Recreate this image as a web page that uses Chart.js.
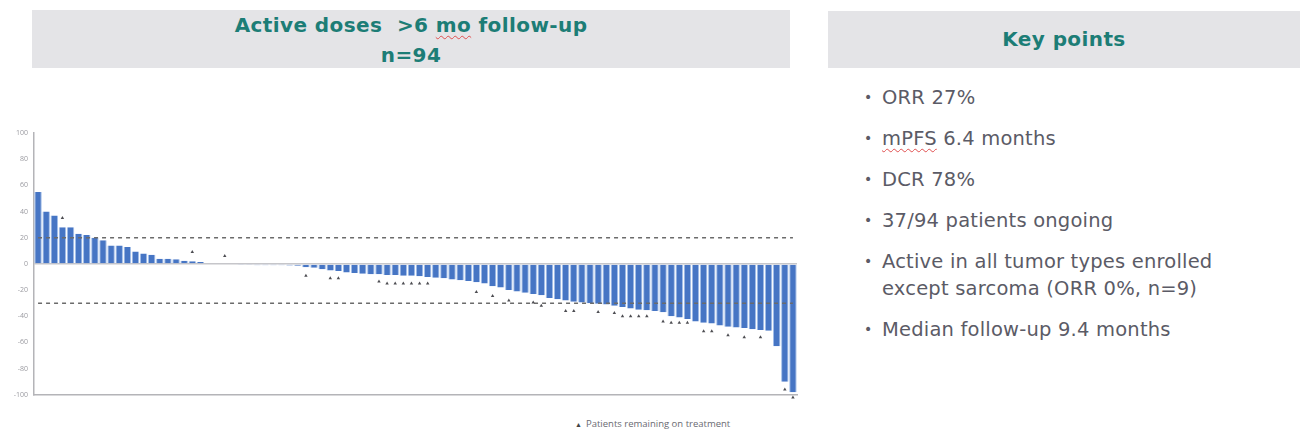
<!DOCTYPE html>
<html>
<head>
<meta charset="utf-8">
<script src="https://cdn.jsdelivr.net/npm/chart.js@4/dist/chart.umd.min.js"></script>
<style>
    body { margin: 0; background: #ffffff; font-family: 'DejaVu Sans', 'Noto Sans', sans-serif; }
    #page { position: relative; width: 1300px; height: 435px; overflow: hidden; }
    .head-box {
        position: absolute;
        background: #e4e4e7;
        color: #1c7d76;
        font-family: 'DejaVu Sans', sans-serif;
        font-weight: 700;
        text-align: center;
        letter-spacing: 0.4px;
    }
    #left-head { left: 32px; top: 10px; width: 758px; height: 58px; font-size: 20px; line-height: 30px; }
    #right-head { left: 828px; top: 11px; width: 472px; height: 57px; font-size: 20px; line-height: 57px; }
    .spell { text-decoration: underline wavy #e05050; text-decoration-thickness: 1px; text-underline-offset: 3px; }
    #points { position: absolute; left: 862px; top: 84px; margin: 0; padding: 0; list-style: none; color: #5b5b66; font-size: 19.5px; letter-spacing: 0.2px; }
    #points li { position: relative; padding-left: 20px; line-height: 27px; margin-bottom: 14px; }
    #points li::before { content: '\2022'; position: absolute; left: 2px; top: 0; font-size: 14px; }
    #chart-wrap { position: absolute; left: 0; top: 120px; width: 808px; height: 285px; }
    #note { position: absolute; left: 575px; top: 417px; font-size: 9.5px; color: #6a6a72; font-family: 'Open Sans', sans-serif; }
    #note span { font-size: 7px; color: #444; margin-right: 4px; }
</style>
</head>
<body>
<div id="page">
    <div id="left-head" class="head-box">Active doses&nbsp; &gt;6 <span class="spell">mo</span> follow-up<br>n=94</div>
    <div id="right-head" class="head-box">Key points</div>
    <ul id="points">
        <li>ORR 27%</li>
        <li><span class="spell">mPFS</span> 6.4 months</li>
        <li>DCR 78%</li>
        <li>37/94 patients ongoing</li>
        <li>Active in all tumor types enrolled<br>except sarcoma (ORR 0%, n=9)</li>
        <li>Median follow-up 9.4 months</li>
    </ul>
    <div id="chart-wrap"><canvas id="waterfall"></canvas></div>
    <div id="note"><span>&#9650;</span>Patients remaining on treatment</div>
</div>
<script>
// Best change in tumour size per patient (%), sorted high to low
const changePct = [
    55, 40, 37, 28, 28, 23, 22, 20, 18, 14,
    14, 13, 9.5, 8, 7, 4, 4, 3.5, 2.5, 2,
    1.5, 0.5, 0, 0, 0, -0.5, -0.5, -1, -1, -1,
    -1, -1.2, -1.5, -2.5, -3, -4, -5, -5.5, -6.5, -7,
    -7.5, -8, -8, -8.5, -8.5, -9, -9, -9.5, -10, -10.5,
    -11, -12, -12.5, -13, -14, -15, -17, -18, -20, -21,
    -22, -23, -24, -26, -27, -28, -29, -29.5, -30, -30.5,
    -31, -32, -33, -34, -35, -35.5, -36, -37, -40, -41,
    -42, -44, -45, -45.5, -47, -48, -48.5, -49, -50, -50.5,
    -51, -63, -90, -98
];
const patients = changePct.map((v, i) => String(i + 1));

// patients still on treatment (position in the sorted list) and where the marker sits
const onTreatmentIdx = [3, 19, 23, 33, 36, 37, 42, 43, 44, 45, 46, 47, 48, 54, 56, 58, 61, 62,
    65, 66, 69, 71, 72, 73, 74, 75, 77, 78, 79, 80, 82, 83, 85, 87, 89, 92, 93];
const onTreatmentPct = [35, 9, 6, -9, -11, -11, -13.5, -15, -15, -15, -15, -15, -15, -21.5, -24.5, -28, -29.5, -32,
    -36, -36, -36.7, -37.5, -40, -40, -40, -40, -44, -45, -45, -45, -51.5, -51.5, -54.5, -56, -56, -96, -102];

// response thresholds: PR at -30, PD at +20
const pdLine = 20;
const prLine = -30;

const yMin = -100;
const yMax = 100;
const yStep = 20;

document.addEventListener('DOMContentLoaded', function() {
    const colors = {
        bar: '#4675c4',
        barEdge: '#a3bfe9',
        axis: '#b4b4b8',
        tick: '#9a9aa0',
        dash: '#6b6b6b',
        marker: '#4d4d52'
    };

    const markerPoints = onTreatmentIdx.map((idx, k) => ({ x: patients[idx], y: onTreatmentPct[k] }));

    new Chart(document.getElementById('waterfall'), {
        data: {
            labels: patients,
            datasets: [
                {
                    type: 'scatter',
                    data: markerPoints,
                    pointStyle: 'triangle',
                    pointRadius: 2,
                    backgroundColor: colors.marker,
                    borderColor: colors.marker,
                    borderWidth: 0,
                    clip: false,
                    order: 0
                },
                {
                    type: 'line',
                    data: patients.map(() => pdLine),
                    borderColor: colors.dash,
                    borderWidth: 1.5,
                    borderDash: [4, 4],
                    pointRadius: 0,
                    order: 1
                },
                {
                    type: 'line',
                    data: patients.map(() => prLine),
                    borderColor: colors.dash,
                    borderWidth: 1.5,
                    borderDash: [4, 4],
                    pointRadius: 0,
                    order: 1
                },
                {
                    type: 'bar',
                    data: changePct,
                    backgroundColor: colors.bar,
                    borderColor: colors.barEdge,
                    borderWidth: { left: 1, right: 1, top: 0, bottom: 0 },
                    borderSkipped: false,
                    barPercentage: 0.92,
                    categoryPercentage: 1,
                    order: 2
                }
            ]
        },
        options: {
            responsive: true,
            maintainAspectRatio: false,
            animation: false,
            layout: {
                padding: { top: 13, bottom: 2, right: 11, left: 0 }
            },
            plugins: {
                legend: { display: false },
                tooltip: { enabled: false }
            },
            scales: {
                x: {
                    type: 'category',
                    ticks: { display: false },
                    grid: { display: false },
                    border: { color: colors.axis, width: 1.5 }
                },
                y: {
                    min: yMin,
                    max: yMax,
                    afterFit: function(scale) { scale.width = 34; },
                    ticks: {
                        stepSize: yStep,
                        padding: 6,
                        color: colors.tick,
                        font: { size: 7, family: 'Open Sans' }
                    },
                    grid: {
                        drawTicks: false,
                        color: function(ctx) {
                            return ctx.tick && ctx.tick.value === 0 ? '#c6c6ca' : 'rgba(0,0,0,0)';
                        },
                        lineWidth: 1.5
                    },
                    border: { color: colors.axis, width: 1.5 }
                }
            }
        }
    });
});
</script>
</body>
</html>
